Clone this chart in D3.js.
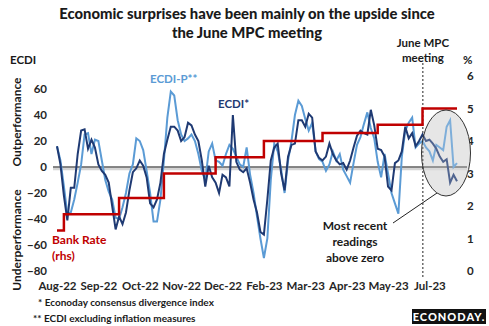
<html lang="en">
<head>
<meta charset="utf-8">
<title>ECDI</title>
<style>
  body { margin: 0; background: white; }
  svg { display: block; }
  text { font-family: Lato, "Open Sans", sans-serif; fill: #1a1a1a; }
  .axis text { font-size: 11.5px; font-weight: bold; fill: #262626; }
  .axis path, .axis line { display: none; }
</style>
</head>
<body>
<script src="https://d3js.org/d3.v7.min.js"></script>
<div id="chart"></div>
<script>
// month labels on the category axis, one every 12 points
var monthLabels = ["Aug-22", "Sep-22", "Oct-22", "Nov-22", "Dec-22", "Feb-23", "Mar-23", "Apr-23", "May-23", "Jul-23"];
var labelEvery = 12;

// ECDI (dark) and ECDI-P (light)
var ecdi = [16, 2, -22, -41, -16, -16, 10, 28, 29, 14, 21, 15, 2, -3, -6, -12, -30, -48, -38, -44,
    -35, -18, -4, -1, 5, 1, -8, -28, -31, -25, -12, 10, 21, 31, 31, 28, 20, 23, 34, 32,
    25, 20, 5, -15, 1, -8, -12, -20, -6, -8, -15, 40, 4, -2, -4, -1, -12, -25, -35, -50,
    -52, -25, 5, 15, 18, -5, -18, 8, 17, 18, 36, 36, 31, 41, 38, 12, 7, 5, 8, 18,
    10, 5, 2, 3, -2, 5, 15, 24, 28, 26, 25, 44, 32, 14, 13, 8, -15, -18, 3, 5,
    12, 31, 22, 26, 16, 20, 25, 20, 21, 18, 14, 8, 4, 6, -12, -6, -11];
var ecdiP = [16, 5, -15, -36, -35, -25, -12, 2, 25, 26, 10, 21, 20, 5, -10, -19, -25, -39, -40, -31,
    -20, -5, 2, 22, 20, 13, -3, -20, -42, -42, -25, 5, 38, 58, 55, 36, 25, 20, 22, 25,
    20, 10, -3, -10, 12, 18, 5, 4, 1, 10, 17, 14, 8, 2, 0, 15, -6, -20, -38, -55,
    -70, -55, -10, 18, 12, -2, -20, 5, 20, 40, 51, 47, 37, 28, 34, 12, 6, 4, -3, 2,
    12, 5, 10, -2, -7, -12, 3, 17, 23, 33, 42, 30, 22, 4, -8, 10, -5, -20, -28, -36,
    8, 28, 34, 38, 15, 18, 20, 15, 12, 5, 17, 15, 13, 31, 36, 0, 3];

// Bank Rate (rhs): point index where each level starts
var rateStart = [0, 2, 18, 31, 46, 60, 77, 93, 106, 116];
var rateLevel = [1.25, 1.75, 2.25, 3.0, 3.5, 4.0, 4.25, 4.5, 5.0, 5.0];

var leftTicks = [-80, -60, -40, -20, 0, 20, 40, 60];
var rightTicks = [0, 1, 2, 3, 4, 5, 6];
var mpcIndex = 106.1;

var width = 489, height = 326;
var svg = d3.select("#chart").append("svg")
    .attr("width", width)
    .attr("height", height);

var x = d3.scaleLinear().domain([0, ecdi.length - 1]).range([57, 457]);
var yL = d3.scaleLinear().domain([-80, 70]).range([271, 76]);
var yR = d3.scaleLinear().domain([0, 6]).range([271, 76]);

// title
svg.append("text").attr("x", 247).attr("y", 19).attr("text-anchor", "middle")
    .style("font-size", "14.8px").style("font-weight", "900")
    .text("Economic surprises have been mainly on the upside since");
svg.append("text").attr("x", 247).attr("y", 38).attr("text-anchor", "middle")
    .style("font-size", "14.8px").style("font-weight", "900")
    .text("the June MPC meeting");

// axis titles
svg.append("text").attr("x", 10).attr("y", 64)
    .style("font-size", "11.5px").style("font-weight", "bold").text("ECDI");
svg.append("text").attr("x", 463).attr("y", 64)
    .style("font-size", "11.5px").style("font-weight", "bold").text("%");
svg.append("text").attr("transform", "translate(21,122) rotate(-90)")
    .attr("text-anchor", "middle")
    .style("font-size", "12px").style("font-weight", "bold").text("Outperformance");
svg.append("text").attr("transform", "translate(21,240) rotate(-90)")
    .attr("text-anchor", "middle")
    .style("font-size", "12px").style("font-weight", "bold").text("Underperformance");

// axes
svg.append("g").attr("class", "axis")
    .attr("transform", "translate(49,0)")
    .call(d3.axisLeft(yL).tickValues(leftTicks).tickSize(0).tickPadding(2));
svg.append("g").attr("class", "axis")
    .attr("transform", "translate(465,0)")
    .call(d3.axisRight(yR).tickValues(rightTicks).tickFormat(d3.format("d")).tickSize(0).tickPadding(2));
svg.append("g").attr("class", "axis")
    .attr("transform", "translate(0,279)")
    .call(d3.axisBottom(x)
        .tickValues(monthLabels.map(function(d, i) { return i * labelEvery; }))
        .tickFormat(function(d) { return monthLabels[d / labelEvery]; })
        .tickSize(0).tickPadding(3));

// ellipse fill sits behind the lines
svg.append("ellipse").attr("cx", 446).attr("cy", 153).attr("rx", 24.5).attr("ry", 43)
    .attr("fill", "#e6e6e6");

// zero lines
svg.append("line").attr("x1", 53).attr("x2", 467)
    .attr("y1", yL(0) + 2).attr("y2", yL(0) + 2)
    .attr("stroke", "#d4d4d4").attr("stroke-width", 2.5);
svg.append("line").attr("x1", 53).attr("x2", 467)
    .attr("y1", yL(0)).attr("y2", yL(0))
    .attr("stroke", "#111").attr("stroke-width", 1.2);

// June MPC dashed marker
svg.append("line").attr("x1", x(mpcIndex)).attr("x2", x(mpcIndex))
    .attr("y1", 63).attr("y2", 278)
    .attr("stroke", "#222").attr("stroke-width", 1).attr("stroke-dasharray", "2,2");
svg.append("text").attr("x", x(mpcIndex)).attr("y", 47).attr("text-anchor", "middle")
    .style("font-size", "11.5px").style("font-weight", "bold").text("June MPC");
svg.append("text").attr("x", x(mpcIndex)).attr("y", 62).attr("text-anchor", "middle")
    .style("font-size", "11.5px").style("font-weight", "bold").text("meeting");

// series
var lineL = d3.line()
    .x(function(d, i) { return x(i); })
    .y(function(d) { return yL(d); });

svg.append("path").datum(ecdiP)
    .attr("d", lineL).attr("fill", "none")
    .attr("stroke", "#5b9bd5").attr("stroke-width", 2);
svg.append("path").datum(ecdi)
    .attr("d", lineL).attr("fill", "none")
    .attr("stroke", "#1f3a73").attr("stroke-width", 2);

var rateLine = d3.line()
    .curve(d3.curveStepAfter)
    .x(function(d, i) { return x(rateStart[i]); })
    .y(function(d) { return yR(d); });
svg.append("path").datum(rateLevel)
    .attr("d", rateLine).attr("fill", "none")
    .attr("stroke", "#c00000").attr("stroke-width", 2.5);

// ellipse outline and pointer
svg.append("ellipse").attr("cx", 446).attr("cy", 153).attr("rx", 24.5).attr("ry", 43)
    .attr("fill", "rgba(230,230,230,0.25)").attr("stroke", "#333").attr("stroke-width", 1);
svg.append("line").attr("x1", 393).attr("y1", 223).attr("x2", 437).attr("y2", 193)
    .attr("stroke", "#222").attr("stroke-width", 1);

// series labels
svg.append("text").attr("x", 150).attr("y", 83)
    .style("font-size", "11.5px").style("font-weight", "bold").style("fill", "#5b9bd5")
    .text("ECDI-P**");
svg.append("text").attr("x", 218).attr("y", 108)
    .style("font-size", "11.5px").style("font-weight", "bold").style("fill", "#1f3a73")
    .text("ECDI*");
svg.append("text").attr("x", 52).attr("y", 244)
    .style("font-size", "12px").style("font-weight", "bold").style("fill", "#c00000")
    .text("Bank Rate");
svg.append("text").attr("x", 52).attr("y", 260)
    .style("font-size", "12px").style("font-weight", "bold").style("fill", "#c00000")
    .text("(rhs)");

// annotation
["Most recent", "readings", "above zero"].forEach(function(t, i) {
    svg.append("text").attr("x", 355).attr("y", 230 + i * 16).attr("text-anchor", "middle")
        .style("font-size", "12px").style("font-weight", "bold").text(t);
});

// footnotes
svg.append("text").attr("x", 38).attr("y", 306)
    .style("font-size", "10px").style("font-weight", "bold").text("* Econoday consensus divergence index");
svg.append("text").attr("x", 33).attr("y", 322)
    .style("font-size", "10px").style("font-weight", "bold").text("** ECDI excluding inflation measures");

// logo
svg.append("rect").attr("x", 412).attr("y", 309).attr("width", 74).attr("height", 15).attr("fill", "#111");
svg.append("text").attr("x", 449).attr("y", 321).attr("text-anchor", "middle")
    .style("font-size", "11px").style("font-weight", "900").style("fill", "white")
    .style("letter-spacing", "1px").text("ECONODAY.");
</script>
</body>
</html>
